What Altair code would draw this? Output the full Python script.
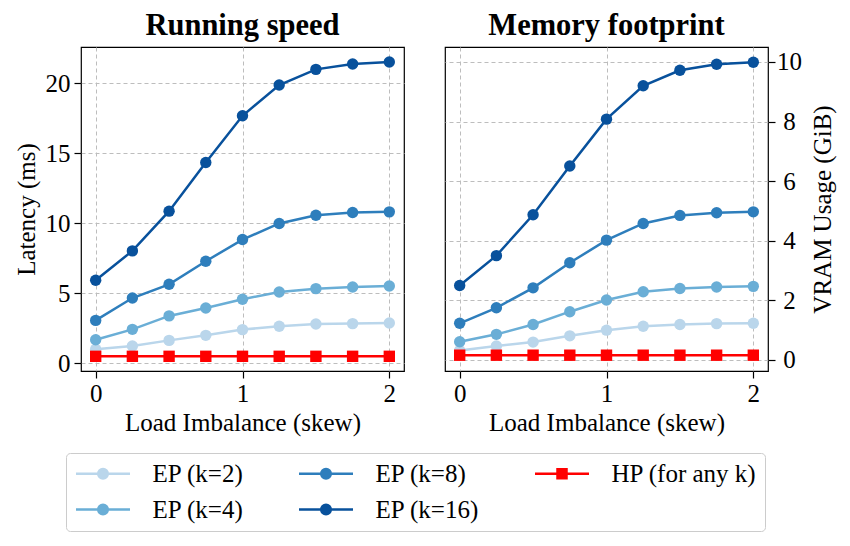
import altair as alt
import pandas as pd

# ---------------- data ----------------
skew = [0, 0.25, 0.5, 0.75, 1.0, 1.25, 1.5, 1.75, 2.0]

series_names = ["EP (k=2)", "EP (k=4)", "EP (k=8)", "EP (k=16)", "HP (for any k)"]
series_kind = ["EP", "EP", "EP", "EP", "HP"]
series_colors = ["#bad6eb", "#6aaed6", "#2e7ebc", "#08519c", "#ff0000"]

lat_k2 = [0.98, 1.22, 1.62, 1.98, 2.39, 2.63, 2.79, 2.82, 2.86]
lat_k4 = [1.67, 2.41, 3.37, 3.94, 4.56, 5.08, 5.32, 5.44, 5.51]
lat_k8 = [3.05, 4.65, 5.63, 7.28, 8.83, 9.98, 10.57, 10.76, 10.81]
lat_k16 = [5.92, 8.02, 10.86, 14.34, 17.68, 19.88, 21.00, 21.38, 21.53]
lat_hp = [0.48, 0.48, 0.48, 0.48, 0.48, 0.48, 0.48, 0.48, 0.48]

mem_k2 = [0.32, 0.47, 0.60, 0.81, 1.00, 1.13, 1.19, 1.22, 1.23]
mem_k4 = [0.61, 0.86, 1.19, 1.62, 2.01, 2.29, 2.40, 2.45, 2.47]
mem_k8 = [1.23, 1.75, 2.42, 3.26, 4.02, 4.58, 4.85, 4.94, 4.97]
mem_k16 = [2.50, 3.50, 4.87, 6.51, 8.08, 9.20, 9.72, 9.92, 9.99]
mem_hp = [0.16, 0.16, 0.16, 0.16, 0.16, 0.16, 0.16, 0.16, 0.16]

x_ticks = [0, 1, 2]
lat_ticks = [0, 5, 10, 15, 20]
mem_ticks = [0, 2, 4, 6, 8, 10]

# legend is laid out column-major in 3 columns
legend_order = [0, 2, 4, 1, 3]

FONT = "Liberation Serif"


def long_table(cols):
    rows = []
    for name, kind, colr, vals in zip(series_names, series_kind, series_colors, cols):
        for s, v in zip(skew, vals):
            rows.append({"skew": s, "value": v, "series": name, "kind": kind, "colr": colr})
    return pd.DataFrame(rows)


lat_df = long_table([lat_k2, lat_k4, lat_k8, lat_k16, lat_hp])
mem_df = long_table([mem_k2, mem_k4, mem_k8, mem_k16, mem_hp])

dom = [series_names[i] for i in legend_order]
rng = [series_colors[i] for i in legend_order]

CIRCLE_PATH = "M-4.5,0L4.5,0M-0.8,0A0.8,0.8,0,1,1,0.8,0A0.8,0.8,0,1,1,-0.8,0Z"
SQUARE_PATH = "M-4.5,0L4.5,0M-0.75,-0.75L0.75,-0.75L0.75,0.75L-0.75,0.75Z"
shape_rng = [SQUARE_PATH if series_kind[i] == "HP" else CIRCLE_PATH for i in legend_order]

legend = alt.Legend(
    title=None,
    orient="none",
    legendX=-15,
    legendY=406,
    columns=3,
    direction="horizontal",
    symbolSize=144,
    symbolStrokeWidth=2.5,
    symbolOffset=16.5,
    labelOffset=37,
    columnPadding=50,
    rowPadding=10,
    padding=8,
    labelFont=FONT,
    labelFontSize=25,
    labelColor="black",
    labelLimit=400,
    strokeColor="#cccccc",
    fillColor="white",
    cornerRadius=4,
)


def panel(df, title, ydom, yticks, ytitle, orient, with_legend):
    x = alt.X(
        "skew:Q",
        scale=alt.Scale(domain=[-0.1, 2.1], nice=False, zero=False),
        axis=alt.Axis(values=x_ticks, format="d", title="Load Imbalance (skew)",
                      labelPadding=3, titlePadding=4),
    )
    yaxis = dict(values=yticks, format="d", title=ytitle, orient=orient)
    if orient == "right":
        yaxis.update(titleAngle=270, titleBaseline="top", labelAlign="center",
                     labelPadding=14, titlePadding=9)
    else:
        yaxis.update(labelPadding=4, titlePadding=6)
    y = alt.Y(
        "value:Q",
        scale=alt.Scale(domain=ydom, nice=False, zero=False),
        axis=alt.Axis(**yaxis),
    )
    color = alt.Color("colr:N", scale=None)
    base = alt.Chart(df)
    lines = base.mark_line(strokeWidth=2.5).encode(x=x, y=y, color=color, detail="series:N")
    dots = (
        base.transform_filter("datum.kind == 'EP'")
        .mark_circle(size=130, opacity=1)
        .encode(x=x, y=y, color=color)
    )
    squares = (
        base.transform_filter("datum.kind == 'HP'")
        .mark_square(size=130, opacity=1)
        .encode(x=x, y=y, color=color)
    )
    layers = [lines, dots, squares]
    if with_legend:
        dummy = (
            base.transform_filter("datum.skew < -100")
            .mark_point(filled=True, opacity=1)
            .encode(
                x=x,
                y=y,
                fill=alt.Fill("series:N", scale=alt.Scale(domain=dom, range=rng), legend=legend),
                stroke=alt.Stroke("series:N", scale=alt.Scale(domain=dom, range=rng), legend=legend),
                shape=alt.Shape("series:N", scale=alt.Scale(domain=dom, range=shape_rng), legend=legend),
            )
        )
        layers.append(dummy)
    return alt.layer(*layers).properties(
        width=323, height=324, title=alt.Title(title)
    )


left = panel(lat_df, "Running speed", [-0.57, 22.6], lat_ticks, "Latency (ms)", "left", True)
right = panel(mem_df, "Memory footprint", [-0.37, 10.5], mem_ticks, "VRAM Usage (GiB)", "right", False)

chart = (
    alt.hconcat(left, right, spacing=39)
    .properties(padding={"left": 5, "top": 1, "right": 0, "bottom": 2}, background="white")
    .configure_view(stroke="black", strokeWidth=1.2)
    .configure_axis(
        labelFont=FONT,
        titleFont=FONT,
        labelFontSize=25,
        titleFontSize=25,
        labelColor="black",
        titleColor="black",
        titleFontWeight="normal",
        domain=False,
        ticks=True,
        tickColor="black",
        tickWidth=1.2,
        tickSize=7,
        labelFlush=False,
        labelOverlap=False,
        grid=True,
        gridColor="#bdbdbd",
        gridDash=[4, 3],
        gridWidth=1,
    )
    .configure_title(font=FONT, fontSize=30.5, fontWeight="bold", color="black", offset=6, anchor="middle")
)

chart.save("out.html", embed_options={"renderer": "svg", "actions": False})
